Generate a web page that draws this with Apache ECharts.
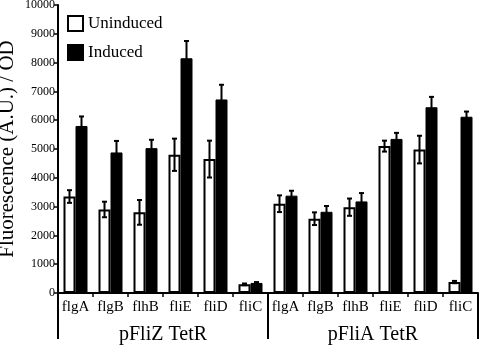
<!DOCTYPE html>
<html><head><meta charset="utf-8">
<script src="https://cdn.jsdelivr.net/npm/echarts@6/dist/echarts.min.js"></script>
<style>html,body{margin:0;padding:0;background:#fff}#c{width:482px;height:346px}</style>
</head><body><div id="c"></div>
<script>
const categories = ['flgA','flgB','flhB','fliE','fliD','fliC','flgA','flgB','flhB','fliE','fliD','fliC'];
const groups = ['pFliZ TetR','pFliA TetR'];
const uninduced = [3350, 2900, 2800, 4800, 4650, 300, 3100, 2580, 2980, 5100, 4980, 380];
const uninducedErr = [220, 270, 430, 560, 640, 30, 290, 220, 300, 190, 480, 40];
const induced = [5800, 4880, 5030, 8150, 6720, 350, 3380, 2820, 3180, 5350, 6450, 6120];
const inducedErr = [330, 400, 290, 600, 510, 30, 170, 200, 290, 210, 360, 180];
const yTicks = [0,1000,2000,3000,4000,5000,6000,7000,8000,9000,10000];

const FONT = 'Liberation Serif, DejaVu Serif, serif';
const BW = 12;
function errSeries(name, vals, errs, sign) {
  return {
    type: 'custom', name: name + ' err', silent: true, z: 5,
    data: vals.map((v, i) => [i, v, errs[i]]),
    renderItem: function (params, api) {
      const x = api.value(0), y = api.value(1), e = api.value(2);
      const p = api.coord([x, y]);
      const off = sign * BW / 2;
      const cx = p[0] + off;
      const top = api.coord([x, y + e])[1];
      const bot = api.coord([x, y - e])[1];
      const cap = 2.5;
      const st = { stroke: '#000', lineWidth: 2, fill: null };
      return { type: 'group', children: [
        { type: 'line', shape: { x1: cx, y1: top, x2: cx, y2: bot }, style: st },
        { type: 'line', shape: { x1: cx - cap, y1: top, x2: cx + cap, y2: top }, style: st },
        { type: 'line', shape: { x1: cx - cap, y1: bot, x2: cx + cap, y2: bot }, style: st }
      ]};
    }
  };
}

const chart = echarts.init(document.getElementById('c'));
chart.setOption({
  animation: false,
  backgroundColor: '#fff',
  textStyle: { fontFamily: FONT, color: '#000' },
  grid: { left: 58, right: 4, top: 5, bottom: 53, containLabel: false, outerBoundsMode: 'none' },
  legend: {
    orient: 'vertical', left: 67, top: 15, padding: 0, itemWidth: 15, itemHeight: 15, itemGap: 12,
    textStyle: { fontFamily: FONT, fontSize: 17, color: '#000' },
    data: [
      { name: 'Uninduced', icon: 'rect', itemStyle: { color: '#fff', borderColor: '#000', borderWidth: 2 } },
      { name: 'Induced', icon: 'rect', itemStyle: { color: '#000' } }
    ]
  },
  xAxis: [{
    type: 'category', data: categories, position: 'bottom',
    axisLine: { show: true, lineStyle: { color: '#000', width: 2 } },
    axisTick: { show: true, length: 4, lineStyle: { color: '#000', width: 1.5 } },
    axisLabel: { color: '#000', fontFamily: FONT, fontSize: 15, margin: 7, interval: 0 }
  }, {
    type: 'category', data: groups, position: 'bottom',
    axisLine: { show: false },
    axisTick: { show: true, length: 46, lineStyle: { color: '#000', width: 2 } },
    axisLabel: { color: '#000', fontFamily: FONT, fontSize: 20, margin: 32, interval: 0 }
  }],
  yAxis: {
    type: 'value', min: 0, max: 10000, interval: 1000,
    name: 'Fluorescence (A.U.) / OD', nameLocation: 'middle', nameGap: 40, nameMoveOverlap: false,
    nameTextStyle: { fontFamily: FONT, fontSize: 21, color: '#000' },
    axisLine: { show: true, lineStyle: { color: '#000', width: 2 } },
    axisTick: { show: true, length: 4, lineStyle: { color: '#000', width: 1.5 } },
    splitLine: { show: false },
    axisLabel: { color: '#000', fontFamily: FONT, fontSize: 12, margin: 3,
      formatter: v => yTicks.includes(v) ? String(v) : '' }
  },
  series: [
    { name: 'Uninduced', type: 'bar', data: uninduced, barWidth: BW, barGap: '0%',
      itemStyle: { color: '#fff', borderColor: '#000', borderWidth: 2 } },
    { name: 'Induced', type: 'bar', data: induced, barWidth: BW, barGap: '0%',
      itemStyle: { color: '#000', borderColor: '#000', borderWidth: 1 } },
    errSeries('Uninduced', uninduced, uninducedErr, -1),
    errSeries('Induced', induced, inducedErr, 1)
  ]
});
</script></body></html>
